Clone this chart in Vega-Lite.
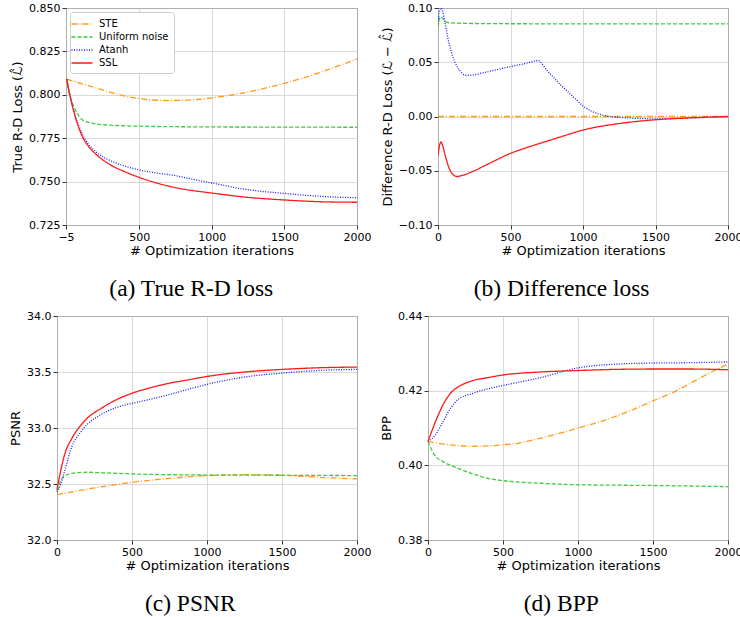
{
  "$schema": "https://vega.github.io/schema/vega-lite/v6.json",
  "padding": {"left": 0, "top": 1, "right": 0, "bottom": 0},
  "background": "white",
  "datasets": {
    "empty": [],
    "a": [
      {"method":"STE","iter":0,"value":0.8090},{"method":"STE","iter":100,"value":0.8065},{"method":"STE","iter":200,"value":0.8040},{"method":"STE","iter":300,"value":0.8015},{"method":"STE","iter":400,"value":0.7993},{"method":"STE","iter":500,"value":0.7978},{"method":"STE","iter":600,"value":0.7970},{"method":"STE","iter":700,"value":0.7967},{"method":"STE","iter":800,"value":0.7968},{"method":"STE","iter":900,"value":0.7973},{"method":"STE","iter":1000,"value":0.7982},{"method":"STE","iter":1100,"value":0.7994},{"method":"STE","iter":1200,"value":0.8008},{"method":"STE","iter":1300,"value":0.8025},{"method":"STE","iter":1400,"value":0.8045},{"method":"STE","iter":1500,"value":0.8066},{"method":"STE","iter":1600,"value":0.8090},{"method":"STE","iter":1700,"value":0.8116},{"method":"STE","iter":1800,"value":0.8145},{"method":"STE","iter":1900,"value":0.8175},{"method":"STE","iter":2000,"value":0.8207},
      {"method":"Uniform noise","iter":0,"value":0.8090},{"method":"Uniform noise","iter":15,"value":0.8020},{"method":"Uniform noise","iter":30,"value":0.7972},{"method":"Uniform noise","iter":50,"value":0.7930},{"method":"Uniform noise","iter":75,"value":0.7890},{"method":"Uniform noise","iter":100,"value":0.7860},{"method":"Uniform noise","iter":150,"value":0.7841},{"method":"Uniform noise","iter":200,"value":0.7832},{"method":"Uniform noise","iter":300,"value":0.7825},{"method":"Uniform noise","iter":500,"value":0.7819},{"method":"Uniform noise","iter":1000,"value":0.7815},{"method":"Uniform noise","iter":1500,"value":0.7814},{"method":"Uniform noise","iter":2000,"value":0.7813},
      {"method":"Atanh","iter":0,"value":0.8090},{"method":"Atanh","iter":25,"value":0.7990},{"method":"Atanh","iter":50,"value":0.7905},{"method":"Atanh","iter":75,"value":0.7840},{"method":"Atanh","iter":100,"value":0.7788},{"method":"Atanh","iter":150,"value":0.7715},{"method":"Atanh","iter":200,"value":0.7672},{"method":"Atanh","iter":300,"value":0.7621},{"method":"Atanh","iter":400,"value":0.7590},{"method":"Atanh","iter":500,"value":0.7567},{"method":"Atanh","iter":600,"value":0.7552},{"method":"Atanh","iter":750,"value":0.7534},{"method":"Atanh","iter":900,"value":0.7508},{"method":"Atanh","iter":1000,"value":0.7492},{"method":"Atanh","iter":1250,"value":0.7453},{"method":"Atanh","iter":1500,"value":0.7432},{"method":"Atanh","iter":1750,"value":0.7415},{"method":"Atanh","iter":2000,"value":0.7407},
      {"method":"SSL","iter":0,"value":0.8090},{"method":"SSL","iter":25,"value":0.7985},{"method":"SSL","iter":50,"value":0.7899},{"method":"SSL","iter":75,"value":0.7830},{"method":"SSL","iter":100,"value":0.7774},{"method":"SSL","iter":150,"value":0.7703},{"method":"SSL","iter":200,"value":0.7659},{"method":"SSL","iter":300,"value":0.7597},{"method":"SSL","iter":400,"value":0.7557},{"method":"SSL","iter":500,"value":0.7524},{"method":"SSL","iter":750,"value":0.7465},{"method":"SSL","iter":1000,"value":0.7434},{"method":"SSL","iter":1250,"value":0.7409},{"method":"SSL","iter":1500,"value":0.7394},{"method":"SSL","iter":1750,"value":0.7384},{"method":"SSL","iter":2000,"value":0.7381}
    ],
    "b": [
      {"method":"STE","iter":0,"value":0},{"method":"STE","iter":1000,"value":0},{"method":"STE","iter":2000,"value":0},
      {"method":"Uniform noise","iter":0,"value":0.082},{"method":"Uniform noise","iter":10,"value":0.090},{"method":"Uniform noise","iter":20,"value":0.092},{"method":"Uniform noise","iter":35,"value":0.090},{"method":"Uniform noise","iter":50,"value":0.0875},{"method":"Uniform noise","iter":75,"value":0.0865},{"method":"Uniform noise","iter":100,"value":0.0862},{"method":"Uniform noise","iter":200,"value":0.0858},{"method":"Uniform noise","iter":500,"value":0.0855},{"method":"Uniform noise","iter":1000,"value":0.0854},{"method":"Uniform noise","iter":2000,"value":0.0853},
      {"method":"Atanh","iter":0,"value":0.085},{"method":"Atanh","iter":10,"value":0.097},{"method":"Atanh","iter":20,"value":0.100},{"method":"Atanh","iter":30,"value":0.098},{"method":"Atanh","iter":50,"value":0.085},{"method":"Atanh","iter":75,"value":0.068},{"method":"Atanh","iter":100,"value":0.056},{"method":"Atanh","iter":125,"value":0.048},{"method":"Atanh","iter":150,"value":0.0425},{"method":"Atanh","iter":190,"value":0.0380},{"method":"Atanh","iter":250,"value":0.0385},{"method":"Atanh","iter":300,"value":0.0400},{"method":"Atanh","iter":400,"value":0.0430},{"method":"Atanh","iter":500,"value":0.0460},{"method":"Atanh","iter":600,"value":0.0488},{"method":"Atanh","iter":690,"value":0.0515},{"method":"Atanh","iter":750,"value":0.0428},{"method":"Atanh","iter":800,"value":0.0356},{"method":"Atanh","iter":850,"value":0.0285},{"method":"Atanh","iter":900,"value":0.0222},{"method":"Atanh","iter":950,"value":0.0160},{"method":"Atanh","iter":1000,"value":0.0097},{"method":"Atanh","iter":1050,"value":0.0055},{"method":"Atanh","iter":1100,"value":0.0028},{"method":"Atanh","iter":1150,"value":0.0008},{"method":"Atanh","iter":1200,"value":-0.0002},{"method":"Atanh","iter":1300,"value":-0.0012},{"method":"Atanh","iter":1500,"value":-0.0022},{"method":"Atanh","iter":1700,"value":-0.0015},{"method":"Atanh","iter":1850,"value":-0.0008},{"method":"Atanh","iter":2000,"value":0.0},
      {"method":"SSL","iter":0,"value":-0.036},{"method":"SSL","iter":10,"value":-0.027},{"method":"SSL","iter":20,"value":-0.0235},{"method":"SSL","iter":30,"value":-0.026},{"method":"SSL","iter":50,"value":-0.036},{"method":"SSL","iter":75,"value":-0.047},{"method":"SSL","iter":100,"value":-0.053},{"method":"SSL","iter":130,"value":-0.0553},{"method":"SSL","iter":175,"value":-0.0540},{"method":"SSL","iter":250,"value":-0.0500},{"method":"SSL","iter":350,"value":-0.0435},{"method":"SSL","iter":500,"value":-0.0340},{"method":"SSL","iter":650,"value":-0.0270},{"method":"SSL","iter":750,"value":-0.0228},{"method":"SSL","iter":900,"value":-0.0165},{"method":"SSL","iter":1000,"value":-0.0125},{"method":"SSL","iter":1250,"value":-0.0065},{"method":"SSL","iter":1500,"value":-0.0030},{"method":"SSL","iter":1750,"value":-0.0012},{"method":"SSL","iter":2000,"value":0.0}
    ],
    "c": [
      {"method":"STE","iter":0,"value":32.405},{"method":"STE","iter":250,"value":32.465},{"method":"STE","iter":500,"value":32.515},{"method":"STE","iter":750,"value":32.550},{"method":"STE","iter":1000,"value":32.575},{"method":"STE","iter":1250,"value":32.583},{"method":"STE","iter":1500,"value":32.578},{"method":"STE","iter":1750,"value":32.560},{"method":"STE","iter":2000,"value":32.545},
      {"method":"Uniform noise","iter":0,"value":32.44},{"method":"Uniform noise","iter":25,"value":32.53},{"method":"Uniform noise","iter":50,"value":32.57},{"method":"Uniform noise","iter":100,"value":32.595},{"method":"Uniform noise","iter":200,"value":32.605},{"method":"Uniform noise","iter":300,"value":32.600},{"method":"Uniform noise","iter":500,"value":32.590},{"method":"Uniform noise","iter":1000,"value":32.580},{"method":"Uniform noise","iter":1500,"value":32.578},{"method":"Uniform noise","iter":2000,"value":32.575},
      {"method":"Atanh","iter":0,"value":32.43},{"method":"Atanh","iter":25,"value":32.50},{"method":"Atanh","iter":50,"value":32.61},{"method":"Atanh","iter":100,"value":32.84},{"method":"Atanh","iter":150,"value":32.95},{"method":"Atanh","iter":200,"value":33.03},{"method":"Atanh","iter":300,"value":33.125},{"method":"Atanh","iter":400,"value":33.185},{"method":"Atanh","iter":500,"value":33.22},{"method":"Atanh","iter":600,"value":33.25},{"method":"Atanh","iter":750,"value":33.30},{"method":"Atanh","iter":900,"value":33.355},{"method":"Atanh","iter":1000,"value":33.39},{"method":"Atanh","iter":1250,"value":33.455},{"method":"Atanh","iter":1500,"value":33.49},{"method":"Atanh","iter":1750,"value":33.514},{"method":"Atanh","iter":2000,"value":33.523},
      {"method":"SSL","iter":0,"value":32.45},{"method":"SSL","iter":25,"value":32.62},{"method":"SSL","iter":50,"value":32.76},{"method":"SSL","iter":100,"value":32.91},{"method":"SSL","iter":150,"value":33.01},{"method":"SSL","iter":200,"value":33.085},{"method":"SSL","iter":300,"value":33.18},{"method":"SSL","iter":400,"value":33.255},{"method":"SSL","iter":500,"value":33.31},{"method":"SSL","iter":625,"value":33.36},{"method":"SSL","iter":750,"value":33.40},{"method":"SSL","iter":875,"value":33.43},{"method":"SSL","iter":1000,"value":33.46},{"method":"SSL","iter":1250,"value":33.50},{"method":"SSL","iter":1500,"value":33.523},{"method":"SSL","iter":1750,"value":33.538},{"method":"SSL","iter":2000,"value":33.544}
    ],
    "d": [
      {"method":"STE","iter":0,"value":0.4064},{"method":"STE","iter":100,"value":0.4057},{"method":"STE","iter":200,"value":0.4053},{"method":"STE","iter":300,"value":0.4051},{"method":"STE","iter":400,"value":0.4052},{"method":"STE","iter":500,"value":0.4055},{"method":"STE","iter":600,"value":0.4059},{"method":"STE","iter":750,"value":0.4073},{"method":"STE","iter":900,"value":0.4088},{"method":"STE","iter":1000,"value":0.4100},{"method":"STE","iter":1100,"value":0.4111},{"method":"STE","iter":1250,"value":0.4131},{"method":"STE","iter":1400,"value":0.4155},{"method":"STE","iter":1500,"value":0.4173},{"method":"STE","iter":1600,"value":0.4189},{"method":"STE","iter":1750,"value":0.4220},{"method":"STE","iter":1800,"value":0.4231},{"method":"STE","iter":1900,"value":0.4252},{"method":"STE","iter":2000,"value":0.4271},
      {"method":"Uniform noise","iter":0,"value":0.4064},{"method":"Uniform noise","iter":25,"value":0.4041},{"method":"Uniform noise","iter":50,"value":0.4024},{"method":"Uniform noise","iter":100,"value":0.4010},{"method":"Uniform noise","iter":200,"value":0.3992},{"method":"Uniform noise","iter":300,"value":0.3977},{"method":"Uniform noise","iter":400,"value":0.3965},{"method":"Uniform noise","iter":500,"value":0.3959},{"method":"Uniform noise","iter":750,"value":0.3952},{"method":"Uniform noise","iter":1000,"value":0.3948},{"method":"Uniform noise","iter":1500,"value":0.3946},{"method":"Uniform noise","iter":2000,"value":0.3943},
      {"method":"Atanh","iter":0,"value":0.4064},{"method":"Atanh","iter":50,"value":0.4082},{"method":"Atanh","iter":100,"value":0.4117},{"method":"Atanh","iter":150,"value":0.4153},{"method":"Atanh","iter":200,"value":0.4176},{"method":"Atanh","iter":300,"value":0.4193},{"method":"Atanh","iter":400,"value":0.4205},{"method":"Atanh","iter":500,"value":0.4214},{"method":"Atanh","iter":750,"value":0.4235},{"method":"Atanh","iter":1000,"value":0.4261},{"method":"Atanh","iter":1250,"value":0.4271},{"method":"Atanh","iter":1500,"value":0.4274},{"method":"Atanh","iter":1750,"value":0.4275},{"method":"Atanh","iter":2000,"value":0.4277},
      {"method":"SSL","iter":0,"value":0.4064},{"method":"SSL","iter":50,"value":0.4117},{"method":"SSL","iter":100,"value":0.4162},{"method":"SSL","iter":150,"value":0.4193},{"method":"SSL","iter":200,"value":0.4210},{"method":"SSL","iter":250,"value":0.4220},{"method":"SSL","iter":300,"value":0.4227},{"method":"SSL","iter":400,"value":0.4235},{"method":"SSL","iter":500,"value":0.4242},{"method":"SSL","iter":750,"value":0.4250},{"method":"SSL","iter":1000,"value":0.4254},{"method":"SSL","iter":1250,"value":0.4257},{"method":"SSL","iter":1500,"value":0.4258},{"method":"SSL","iter":1750,"value":0.4258},{"method":"SSL","iter":2000,"value":0.4256}
    ]
  },
  "vconcat": [
    {
      "hconcat": [
        {
          "data": {"name": "empty"},
          "width": 3, "height": 1,
          "view": {"stroke": null},
          "mark": {"type": "point", "opacity": 0},
          "encoding": {}
        },
        {
          "data": {"name": "a"},
          "width": 291, "height": 217,
          "title": {"text": "(a) True R-D loss"},
          "mark": {"type": "line", "interpolate": "monotone", "strokeWidth": 1.3},
          "encoding": {
            "x": {"field": "iter", "type": "quantitative", "title": "# Optimization iterations",
                  "scale": {"domain": [-5, 2000], "nice": false},
                  "axis": {"values": [-5, 500, 1000, 1500, 2000], "format": "d"}},
            "y": {"field": "value", "type": "quantitative", "title": "True R-D Loss (ℒ̂)",
                  "scale": {"domain": [0.725, 0.85], "nice": false, "zero": false},
                  "axis": {"values": [0.725, 0.75, 0.775, 0.8, 0.825, 0.85], "format": ".3f"}},
            "color": {"field": "method", "type": "nominal",
                      "scale": {"domain": ["STE", "Uniform noise", "Atanh", "SSL"], "range": ["#ff9a1a", "#3ccc3c", "#1a1aff", "#ff1a1a"]},
                      "legend": {"title": null}},
            "strokeDash": {"field": "method", "type": "nominal",
                      "scale": {"domain": ["STE", "Uniform noise", "Atanh", "SSL"], "range": [[6, 2, 1, 2], [4, 2], [1, 1.5], [1, 0]]},
                      "legend": {"title": null}}
          }
        },
        {
          "data": {"name": "b"},
          "width": 290, "height": 217,
          "title": {"text": "(b) Difference loss"},
          "mark": {"type": "line", "interpolate": "monotone", "strokeWidth": 1.3, "clip": true},
          "encoding": {
            "x": {"field": "iter", "type": "quantitative", "title": "# Optimization iterations",
                  "scale": {"domain": [0, 2000], "nice": false},
                  "axis": {"values": [0, 500, 1000, 1500, 2000], "format": "d"}},
            "y": {"field": "value", "type": "quantitative", "title": "Difference R-D Loss (ℒ − ℒ̂)",
                  "scale": {"domain": [-0.1, 0.1], "nice": false, "zero": false},
                  "axis": {"values": [-0.1, -0.05, 0, 0.05, 0.1], "format": ".2f"}},
            "color": {"field": "method", "type": "nominal",
                      "scale": {"domain": ["STE", "Uniform noise", "Atanh", "SSL"], "range": ["#ff9a1a", "#3ccc3c", "#1a1aff", "#ff1a1a"]},
                      "legend": null},
            "strokeDash": {"field": "method", "type": "nominal",
                      "scale": {"domain": ["STE", "Uniform noise", "Atanh", "SSL"], "range": [[6, 2, 1, 2], [4, 2], [1, 1.5], [1, 0]]},
                      "legend": null}
          }
        }
      ],
      "spacing": 8,
      "resolve": {"scale": {"color": "independent", "strokeDash": "independent"}}
    },
    {
      "hconcat": [
        {
          "data": {"name": "empty"},
          "width": 1, "height": 1,
          "view": {"stroke": null},
          "mark": {"type": "point", "opacity": 0},
          "encoding": {}
        },
        {
          "data": {"name": "c"},
          "width": 300, "height": 224,
          "title": {"text": "(c) PSNR"},
          "mark": {"type": "line", "interpolate": "monotone", "strokeWidth": 1.3},
          "encoding": {
            "x": {"field": "iter", "type": "quantitative", "title": "# Optimization iterations",
                  "scale": {"domain": [0, 2000], "nice": false},
                  "axis": {"values": [0, 500, 1000, 1500, 2000], "format": "d"}},
            "y": {"field": "value", "type": "quantitative", "title": "PSNR",
                  "scale": {"domain": [32, 34], "nice": false, "zero": false},
                  "axis": {"values": [32, 32.5, 33, 33.5, 34], "format": ".1f"}},
            "color": {"field": "method", "type": "nominal",
                      "scale": {"domain": ["STE", "Uniform noise", "Atanh", "SSL"], "range": ["#ff9a1a", "#3ccc3c", "#1a1aff", "#ff1a1a"]},
                      "legend": null},
            "strokeDash": {"field": "method", "type": "nominal",
                      "scale": {"domain": ["STE", "Uniform noise", "Atanh", "SSL"], "range": [[6, 2, 1, 2], [4, 2], [1, 1.5], [1, 0]]},
                      "legend": null}
          }
        },
        {
          "data": {"name": "d"},
          "width": 300, "height": 224,
          "title": {"text": "(d) BPP"},
          "mark": {"type": "line", "interpolate": "monotone", "strokeWidth": 1.3},
          "encoding": {
            "x": {"field": "iter", "type": "quantitative", "title": "# Optimization iterations",
                  "scale": {"domain": [0, 2000], "nice": false},
                  "axis": {"values": [0, 500, 1000, 1500, 2000], "format": "d"}},
            "y": {"field": "value", "type": "quantitative", "title": "BPP",
                  "scale": {"domain": [0.38, 0.44], "nice": false, "zero": false},
                  "axis": {"values": [0.38, 0.40, 0.42, 0.44], "format": ".2f"}},
            "color": {"field": "method", "type": "nominal",
                      "scale": {"domain": ["STE", "Uniform noise", "Atanh", "SSL"], "range": ["#ff9a1a", "#3ccc3c", "#1a1aff", "#ff1a1a"]},
                      "legend": null},
            "strokeDash": {"field": "method", "type": "nominal",
                      "scale": {"domain": ["STE", "Uniform noise", "Atanh", "SSL"], "range": [[6, 2, 1, 2], [4, 2], [1, 1.5], [1, 0]]},
                      "legend": null}
          }
        }
      ],
      "spacing": 8,
      "resolve": {"scale": {"color": "independent", "strokeDash": "independent"}}
    }
  ],
  "spacing": 8,
  "resolve": {"scale": {"color": "independent", "strokeDash": "independent"}},
  "config": {
    "font": "DejaVu Sans",
    "view": {"stroke": "#333333", "strokeWidth": 1},
    "axis": {
      "domain": false, "grid": true, "gridColor": "#cfcfcf", "gridWidth": 0.8,
      "ticks": true, "tickColor": "#333333", "tickSize": 4, "tickWidth": 1,
      "labelFont": "DejaVu Sans", "labelFontSize": 11, "labelColor": "#000000",
      "labelPadding": 2, "labelFlush": false, "labelOverlap": false, "labelBound": false,
      "titleFont": "DejaVu Sans", "titleFontSize": 13, "titleFontWeight": "normal", "titleColor": "#000000",
      "titlePadding": 4
    },
    "axisX": {"titlePadding": 2},
    "title": {
      "orient": "bottom", "anchor": "middle", "frame": "bounds",
      "font": "Liberation Serif", "fontSize": 23.5, "fontWeight": "normal", "color": "#000000", "offset": 20
    },
    "legend": {
      "orient": "top-left", "offset": 4, "labelFont": "DejaVu Sans", "labelFontSize": 10, "labelColor": "#000000",
      "symbolType": "M-1.75,0H1.75", "symbolSize": 144, "symbolStrokeWidth": 1.5, "labelOffset": 10,
      "strokeColor": "#cccccc", "fillColor": "#ffffff", "padding": 5, "cornerRadius": 3, "rowPadding": 1
    }
  }
}
